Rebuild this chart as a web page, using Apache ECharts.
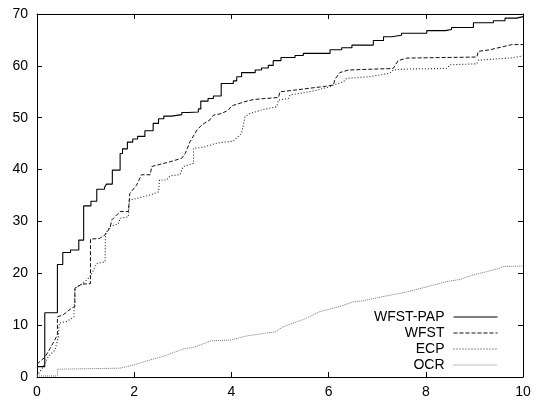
<!DOCTYPE html>
<html>
<head>
<meta charset="utf-8">
<script src="https://cdn.jsdelivr.net/npm/echarts@6/dist/echarts.min.js"></script>
<style>html,body{margin:0;padding:0;background:#fff}#c{width:536px;height:402px}</style>
</head>
<body>
<div id="c"></div>
<script>
// Tick values
var xTicks = [0, 2, 4, 6, 8, 10];
var yTicks = [0, 10, 20, 30, 40, 50, 60, 70];
var seriesNames = ['WFST-PAP', 'WFST', 'ECP', 'OCR'];

// WFST-PAP: step curve, each point = value holding from x onward
var wfstPap = [[0,2.0],[0.16,12.4],[0.42,21.7],[0.53,24.0],[0.69,24.5],[0.86,26.4],[0.96,33.0],[1.11,33.9],[1.23,36.2],[1.39,36.6],[1.43,37.2],[1.55,39.9],[1.71,43.1],[1.76,44.0],[1.86,45.3],[1.97,45.9],[2.07,46.4],[2.22,47.5],[2.39,48.9],[2.50,49.8],[2.61,50.3],[2.77,50.6],[2.98,51.0],[3.11,51.1],[3.32,51.7],[3.37,53.2],[3.52,53.7],[3.63,54.2],[3.79,56.6],[4.04,57.1],[4.11,57.9],[4.21,58.7],[4.49,59.2],[4.62,59.6],[4.76,60.1],[4.86,61.0],[5.02,61.6],[5.31,62.0],[5.48,62.4],[6.03,63.1],[6.27,63.5],[6.48,64.0],[6.92,64.9],[7.13,65.6],[7.30,65.9],[7.50,66.3],[8.02,66.8],[8.40,67.0],[8.53,67.4],[8.98,68.3],[9.39,68.7],[9.63,69.2],[9.87,69.5],[10,69.5]];

// WFST: polyline vertices
var wfst = [[0,2.5],[0.16,3.8],[0.27,5.5],[0.42,8.1],[0.42,11.6],[0.54,12.0],[0.73,13.4],[0.78,13.6],[0.78,17.1],[0.92,17.9],[1.10,18.0],[1.10,26.6],[1.28,26.7],[1.40,27.4],[1.50,28.7],[1.54,30.3],[1.71,31.9],[1.88,31.9],[1.91,35.4],[2.05,37.0],[2.15,39.0],[2.33,39.0],[2.36,40.6],[2.53,41.0],[2.74,41.5],[2.98,42.2],[3.05,43.1],[3.15,45.4],[3.29,47.6],[3.39,48.6],[3.56,49.6],[3.63,50.5],[3.80,50.8],[3.94,51.5],[4.01,52.3],[4.18,52.8],[4.28,53.1],[4.45,53.5],[4.69,53.7],[4.97,53.9],[5.00,55.0],[5.28,55.3],[5.62,55.7],[5.89,56.0],[6.10,56.3],[6.13,57.4],[6.23,58.7],[6.41,59.2],[7.33,59.5],[7.43,61.0],[7.61,61.5],[9.05,61.7],[9.08,62.8],[9.32,63.1],[9.59,63.7],[9.77,64.1],[10,64.1]];

// ECP: polyline vertices
var ecp = [[0,0.2],[0.04,0.4],[0.13,2.0],[0.23,3.9],[0.37,5.2],[0.44,7.8],[0.46,10.4],[0.61,10.7],[0.76,11.6],[0.78,17.1],[0.95,18.1],[1.09,19.3],[1.23,21.9],[1.40,22.2],[1.41,27.7],[1.50,29.0],[1.67,29.5],[1.71,30.6],[1.88,30.9],[1.90,34.1],[2.08,34.5],[2.33,35.1],[2.50,35.7],[2.52,38.0],[2.67,38.0],[2.74,38.8],[2.94,39.0],[3.01,40.6],[3.22,41.2],[3.22,44.1],[3.42,44.3],[3.70,45.1],[4.04,45.5],[4.21,47.0],[4.28,50.2],[4.38,50.8],[4.66,51.6],[4.93,52.1],[4.97,53.4],[5.17,53.7],[5.21,54.4],[5.48,54.8],[5.76,55.3],[6.03,56.0],[6.10,56.3],[6.30,56.9],[6.37,57.6],[6.85,57.9],[7.26,58.6],[7.33,59.2],[7.61,59.4],[8.43,59.5],[8.50,60.2],[9.05,60.4],[9.08,61.1],[9.73,61.5],[10,61.9]];

// OCR: polyline vertices
var ocr = [[0,0.2],[0.42,0.2],[0.42,1.5],[1.71,1.7],[1.98,2.3],[2.26,3.1],[2.60,4.0],[3.01,5.4],[3.22,5.7],[3.42,6.4],[3.59,7.0],[3.97,7.1],[4.31,7.9],[4.66,8.4],[4.90,8.7],[5.07,9.7],[5.48,11.1],[5.82,12.6],[6.23,13.6],[6.51,14.5],[6.71,14.7],[7.06,15.4],[7.61,16.4],[8.02,17.4],[8.43,18.4],[8.70,18.8],[8.98,19.7],[9.25,20.3],[9.53,21.0],[9.59,21.3],[10,21.4]];

var FONT = 'Liberation Sans, Arial, Helvetica, sans-serif';
var chart = echarts.init(document.getElementById('c'), null, {renderer: 'canvas'});

function xAxisCfg(pos, showLabel) {
  return {
    type: 'value', position: pos, min: xTicks[0], max: xTicks[xTicks.length-1], interval: xTicks[1]-xTicks[0],
    axisLine: {show: true, onZero: false, lineStyle: {color: '#000', width: 1}},
    axisTick: {show: true, inside: true, length: 5, lineStyle: {color: '#000'}},
    axisLabel: {show: showLabel, color: '#000', fontSize: 14, fontFamily: FONT, margin: 8},
    splitLine: {show: false}
  };
}
function yAxisCfg(pos, showLabel) {
  return {
    type: 'value', position: pos, min: yTicks[0], max: yTicks[yTicks.length-1], interval: yTicks[1]-yTicks[0],
    axisLine: {show: true, onZero: false, lineStyle: {color: '#000', width: 1}},
    axisTick: {show: true, inside: true, length: 5, lineStyle: {color: '#000'}},
    axisLabel: {show: showLabel, color: '#000', fontSize: 14, fontFamily: FONT, margin: 9},
    splitLine: {show: false}
  };
}

var styles = [
  {color: '#000', type: 'solid', width: 1.1, step: 'end', data: wfstPap},
  {color: '#111', type: [4, 2], width: 1, step: false, data: wfst},
  {color: '#222', type: [1, 2], width: 1.1, step: false, data: ecp},
  {color: '#777', type: [1, 1], width: 1, step: false, data: ocr}
];

chart.setOption({
  animation: false,
  backgroundColor: '#fff',
  grid: {left: 37, right: 13, top: 14, bottom: 25, containLabel: false},
  xAxis: [xAxisCfg('bottom', true), xAxisCfg('top', false)],
  yAxis: [yAxisCfg('left', true), yAxisCfg('right', false)],
  legend: {
    orient: 'vertical', right: 33, top: 305, align: 'right',
    itemWidth: 44, itemHeight: 12, itemGap: 2,
    itemStyle: {opacity: 0},
    lineStyle: {width: 1},
    textStyle: {fontSize: 14, lineHeight: 14, fontFamily: FONT, color: '#000', padding: [0, 4, 0, 0]},
    data: seriesNames
  },
  series: styles.map(function (s, i) {
    return {
      name: seriesNames[i], type: 'line', xAxisIndex: 0, yAxisIndex: 0,
      step: s.step, symbol: 'none', showSymbol: false, smooth: false,
      lineStyle: {color: s.color, type: s.type, width: s.width},
      itemStyle: {color: s.color},
      data: s.data
    };
  })
});
</script>
</body>
</html>
